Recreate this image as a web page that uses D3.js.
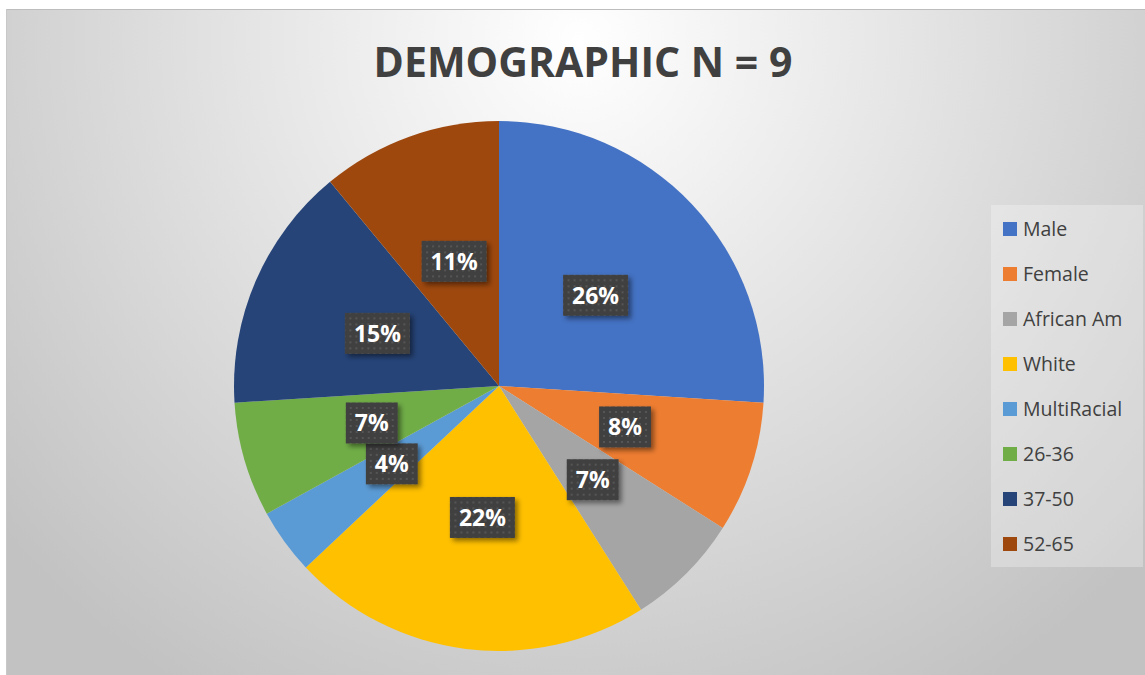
<!DOCTYPE html>
<html>
<head>
<meta charset="utf-8">
<script src="https://cdn.jsdelivr.net/npm/d3@7"></script>
<style>
html,body{margin:0;padding:0;background:#fff;}
svg{display:block;}
</style>
</head>
<body>
<svg id="chart" width="1145" height="675"></svg>
<script>
const categories = ["Male","Female","African Am","White","MultiRacial","26-36","37-50","52-65"];
const values = [26, 8, 7, 22, 4, 7, 15, 11];
const colors = ["#4472C4","#ED7D31","#A5A5A5","#FFC000","#5B9BD5","#70AD47","#264478","#9E480E"];
const title = "DEMOGRAPHIC N = 9";

const svg = d3.select("#chart");
const defs = svg.append("defs");

const grad = defs.append("radialGradient").attr("id","bg")
  .attr("gradientUnits","userSpaceOnUse")
  .attr("cx",580).attr("cy",40).attr("r",760);
grad.append("stop").attr("offset","0%").attr("stop-color","#ffffff");
grad.append("stop").attr("offset","30%").attr("stop-color","#ededed");
grad.append("stop").attr("offset","100%").attr("stop-color","#c2c2c2");

const pat = defs.append("pattern").attr("id","dots")
  .attr("patternUnits","userSpaceOnUse").attr("width",6).attr("height",6);
pat.append("rect").attr("width",6).attr("height",6).attr("fill","#404040");
pat.append("rect").attr("x",2).attr("y",2).attr("width",2).attr("height",2).attr("fill","#555555");

const sh = defs.append("filter").attr("id","shadow").attr("x","-30%").attr("y","-30%").attr("width","170%").attr("height","170%");
sh.append("feDropShadow").attr("dx",3).attr("dy",3).attr("stdDeviation",2.5)
  .attr("flood-color","#000").attr("flood-opacity",0.45);

// background
svg.append("rect").attr("x",6).attr("y",9).attr("width",1139).attr("height",666)
  .attr("fill","url(#bg)");
svg.append("line").attr("x1",6).attr("x2",1145).attr("y1",9.5).attr("y2",9.5)
  .attr("stroke","#bdbdbd").attr("stroke-width",1);
svg.append("line").attr("x1",6.5).attr("x2",6.5).attr("y1",9).attr("y2",675)
  .attr("stroke","#c8c8c8").attr("stroke-width",1);

// title
const t = svg.append("text").attr("x",583).attr("y",77)
  .attr("text-anchor","middle")
  .attr("font-family","'Open Sans', sans-serif").attr("font-weight","bold")
  .attr("font-size",42).attr("fill","#404040").text(title);
const tw = t.node().getComputedTextLength();
t.attr("font-size", 42 * 419 / tw);

// pie
const cx = 499, cy = 386, R = 265;
const pie = d3.pie().sort(null).value(d => d.v);
const data = pie(values.map((v,i)=>({v, c: categories[i], col: colors[i]})));
const arc = d3.arc().innerRadius(0).outerRadius(R);
const g = svg.append("g").attr("transform",`translate(${cx},${cy})`);
g.selectAll("path").data(data).join("path")
  .attr("d",arc).attr("fill",d=>d.data.col);

// labels
const lg = g.selectAll("g.lbl").data(data).join("g").attr("class","lbl")
  .attr("transform",d=>`translate(${arc.centroid(d)})`);
lg.each(function(d){
  const s = d3.select(this);
  const txt = s.append("text").attr("text-anchor","middle").attr("dy","0.36em")
    .attr("font-family","'Open Sans', sans-serif").attr("font-weight","bold")
    .attr("font-size",23).attr("fill","#ffffff").text(d.data.v + "%");
  const w = txt.node().getComputedTextLength();
  const bw = w + 18, bh = 41;
  s.insert("rect","text").attr("x",-bw/2).attr("y",-bh/2).attr("width",bw).attr("height",bh)
    .attr("fill","url(#dots)").attr("filter","url(#shadow)");
});

// legend
const leg = svg.append("g");
leg.append("rect").attr("x",991).attr("y",205).attr("width",152).attr("height",362)
  .attr("fill","#ffffff").attr("fill-opacity",0.28);
const li = leg.selectAll("g.li").data(categories).join("g").attr("class","li")
  .attr("transform",(d,i)=>`translate(1003,${229 + i*45})`);
li.append("rect").attr("x",0).attr("y",-7).attr("width",14).attr("height",14)
  .attr("fill",(d,i)=>colors[i]);
li.append("text").attr("x",20).attr("dy","0.35em")
  .attr("font-family","'Open Sans', sans-serif").attr("font-size",19.5)
  .attr("fill","#404040").text(d=>d);
</script>
</body>
</html>
